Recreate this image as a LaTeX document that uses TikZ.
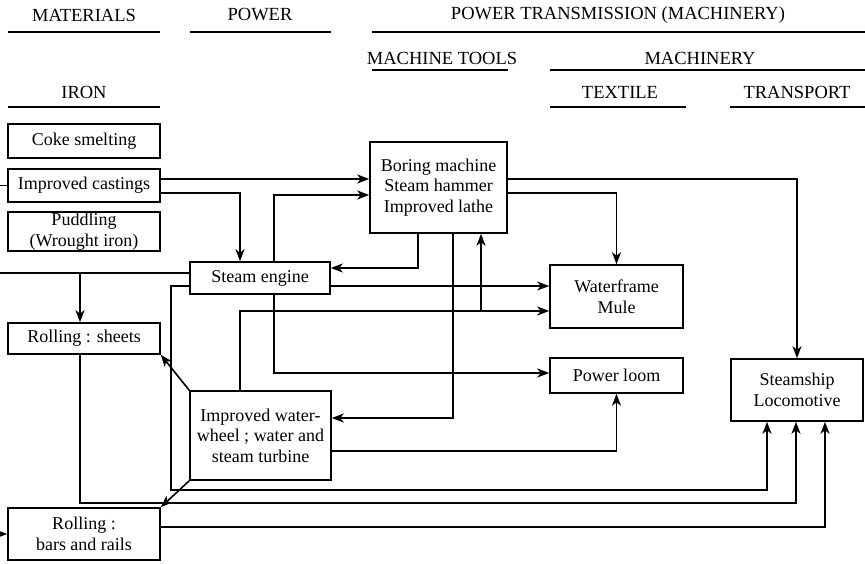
\documentclass[tikz,border=0pt]{standalone}
\usepackage{fontspec}
\setmainfont{Liberation Serif}
\usetikzlibrary{arrows.meta}
\begin{document}
\begin{tikzpicture}[x=1pt,y=-1pt,line width=1.6pt,
  box/.style={draw,rectangle,inner sep=0pt,align=center,font=\fontsize{18}{20.5}\selectfont},
  hdr/.style={font=\fontsize{18.5}{21}\selectfont,inner sep=0pt},
  arr/.style={-{Stealth[length=12pt,width=9pt,inset=3.5pt]}}]
\useasboundingbox (0,0) rectangle (865,563);
% headers
\node[hdr] (hmat) at (84,15) {MATERIALS};
\node[hdr] (hpow) at (260,15) {POWER};
\node[hdr] (hpt) at (618,15) {POWER TRANSMISSION (MACHINERY)};
\node[hdr] (hmt) at (442,58) {MACHINE TOOLS};
\node[hdr] (hmach) at (700,58) {MACHINERY};
\node[hdr] (hiron) at (84,92) {IRON};
\node[hdr] (htex) at (620,92) {TEXTILE};
\node[hdr] (htr) at (797,92) {TRANSPORT};
\draw (8,32) -- (160,32);
\draw (190,32) -- (331,32);
\draw (372,32) -- (865,32);
\draw (372,70) -- (508,70);
\draw (550,70) -- (865,70);
\draw (8,107) -- (160,107);
\draw (550,107) -- (686,107);
\draw (730,107) -- (865,107);
% boxes
\node[box,minimum width=152pt,minimum height=34pt] (coke) at (84,141) {Coke smelting};
\node[box,minimum width=152pt,minimum height=33pt] (cast) at (84,185.5) {Improved castings};
\node[box,minimum width=152pt,minimum height=39pt] (pudd) at (84,231.5) {Puddling\\(Wrought iron)};
\node[box,minimum width=140pt,minimum height=32pt] (steam) at (260,278) {Steam engine};
\node[box,minimum width=137pt,minimum height=91pt] (boring) at (438.5,187.5) {Boring machine\\Steam hammer\\Improved lathe};
\node[box,minimum width=133pt,minimum height=63pt] (water) at (616.5,296.5) {Waterframe\\Mule};
\node[box,minimum width=152pt,minimum height=31pt] (sheets) at (84,338.5) {Rolling : sheets};
\node[box,minimum width=141pt,minimum height=89pt] (wheel) at (260.5,435.5) {Improved water-\\wheel ; water and\\steam turbine};
\node[box,minimum width=133pt,minimum height=35pt] (loom) at (616.5,375.5) {Power loom};
\node[box,minimum width=132pt,minimum height=62pt] (ship) at (797,390) {Steamship\\Locomotive};
\node[box,minimum width=152pt,minimum height=52pt] (bars) at (84,534) {Rolling :\\bars and rails};
% coordinates
\coordinate (lstub1) at (0,185.5);
\coordinate (lstub2) at (-4,534);
\coordinate (lsteam) at (0,273);
\coordinate (j1) at (481,311);
\coordinate (j2) at (80,273);
\coordinate (c1) at (171,490);
\coordinate (c2) at (80,503);
% connectors
\draw (lstub1) -- (cast.west);
\draw[arr] (lstub2) -- (bars.west);
\draw[arr] ([yshift=6.5pt]cast.east) -- ([yshift=6.5pt]cast.east -| boring.west);
\draw[arr] ([yshift=8.5pt]boring.east) -| (ship.north);
\draw[arr] ([yshift=-7.5pt]cast.east) -| ([xshift=-20pt]steam.north);
\draw[arr] ([xshift=14pt]steam.north) |- ([yshift=-7.5pt]boring.west);
\draw[arr] ([xshift=-20.5pt]boring.south) |- ([yshift=10pt]steam.east);
\draw[arr] ([xshift=14.5pt]boring.south) |- ([yshift=17.5pt]wheel.east);
\draw[arr] ([xshift=-20.5pt]wheel.north) |- ([yshift=-14.5pt]water.west);
\draw[arr] (j1) -- (j1 |- boring.south);
\draw[arr] ([yshift=-8pt]steam.east) -- ([yshift=-8pt]steam.east -| water.west);
\draw[arr] ([xshift=14pt]steam.south) |- ([yshift=2.5pt]loom.west);
\draw[arr] ([yshift=-5.5pt]boring.east) -| (water.north);
\draw (lsteam) -- ([yshift=5pt]steam.west);
\draw[arr] (j2) -- (j2 |- sheets.north);
\draw[arr] ([yshift=-8pt]steam.west) -| (c1) -| ([xshift=-30pt]ship.south);
\draw[arr] (c2 |- sheets.south) -- (c2) -| ([xshift=-1pt]ship.south);
\draw[arr] ([yshift=7pt]bars.east) -| ([xshift=28pt]ship.south);
\draw[arr] (wheel.north west) -- (sheets.south east);
\draw[arr] (wheel.south west) -- (bars.north east);
\draw[arr] ([yshift=-15.5pt]wheel.east) -| (loom.south);
\end{tikzpicture}
\end{document}
